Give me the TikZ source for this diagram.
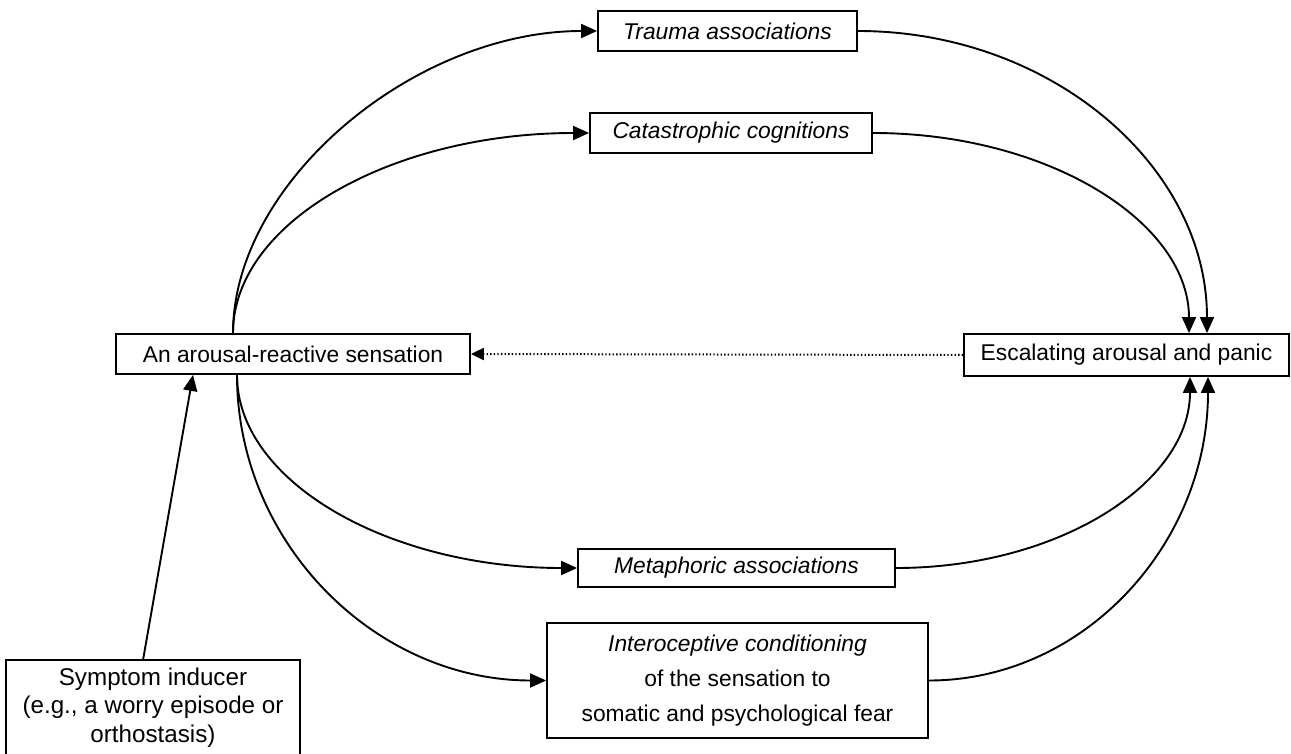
\documentclass[tikz,border=0pt]{standalone}
\usepackage{fontspec}
\setmainfont{Liberation Sans}
\usetikzlibrary{arrows.meta,calc}
\tikzset{
  box/.style={draw, line width=1.8pt, inner sep=0pt, align=center, font=\fontsize{22.8}{28.5}\selectfont},
  conn/.style={line width=1.9pt, -{Triangle[length=16pt,width=14pt]}},
  dotconn/.style={line width=2pt, dash pattern=on 1.4pt off 2.2pt, -{Triangle[length=13pt,width=12pt]}}
}
\begin{document}
\begin{tikzpicture}[x=1pt,y=-1pt]
\useasboundingbox (0,0) rectangle (1291,754);
\node[box, minimum width=259pt, minimum height=40pt] (trauma) at (727.5,31) {\itshape Trauma associations};
\node[box, minimum width=282pt, minimum height=40pt] (cata) at (731,133) {\itshape Catastrophic cognitions};
\node[box, minimum width=354pt, minimum height=40pt] (arousal) at (293,354) {An arousal-reactive sensation};
\node[box, minimum width=325pt, minimum height=42pt] (escal) at (1126.5,355) {Escalating arousal and panic};
\node[box, minimum width=317pt, minimum height=38pt] (meta) at (736.5,568) {\itshape Metaphoric associations};
\node[box, minimum width=381pt, minimum height=115pt, font=\fontsize{22.8}{35}\selectfont] (intero) at (737.5,680.5) {\itshape Interoceptive conditioning\\ of the sensation to\\ somatic and psychological fear};
\node[box, draw=none, minimum width=292pt, minimum height=93pt, font=\fontsize{24.2}{28.5}\selectfont] (sym) at (153,707.5) {Symptom inducer\\ (e.g., a worry episode or\\ orthostasis)};
\draw[line width=1.8pt] (sym.south west) -- (sym.north west) -- (sym.north east) -- (sym.south east);

% upper left
\draw[conn] ($(arousal.north)+(-60,0)$) .. controls +(0,-151) and +(-183,0) .. (trauma.west);
\draw[conn] ($(arousal.north)+(-60,0)$) .. controls +(0,-111) and +(-197,0) .. (cata.west);
% upper right
\draw[conn] (trauma.east) .. controls +(193,0) and +(0,-167) .. ($(escal.north)+(80.5,0)$);
\draw[conn] (cata.east) .. controls +(175,0) and +(0,-111) .. ($(escal.north)+(62.5,0)$);
% lower left
\draw[conn] ($(arousal.south)+(-56,0)$) .. controls +(0,107) and +(-188,0) .. (meta.west);
\draw[conn] ($(arousal.south)+(-56,0)$) .. controls +(0,168) and +(-171,0) .. (intero.west);
% lower right
\draw[conn] (meta.east) .. controls +(163,0) and +(0,106) .. ($(escal.south)+(63.5,0)$);
\draw[conn] (intero.east) .. controls +(155,0) and +(0,167) .. ($(escal.south)+(81.5,0)$);
% dotted feedback
\draw[dotconn] (escal.west) -- (arousal.east);
% symptom inducer
\draw[conn] ($(sym.north)+(-10,0)$) -- ($(arousal.south)+(-100,0)$);
\end{tikzpicture}
\end{document}
